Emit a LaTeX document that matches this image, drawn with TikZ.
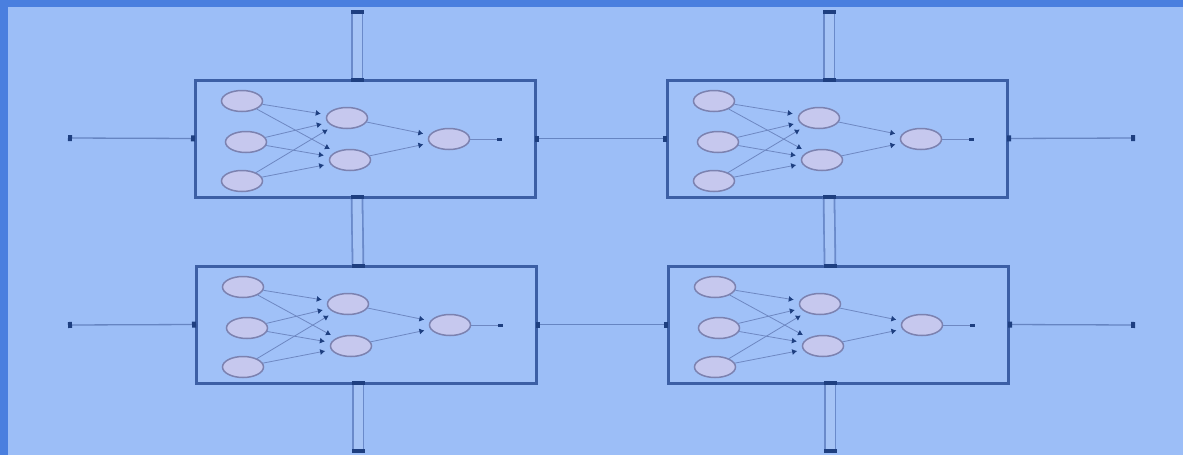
\documentclass[tikz,border=0pt]{standalone}
\usetikzlibrary{shapes.geometric,arrows.meta,calc}
\definecolor{bg}{HTML}{9CBEF7}
\definecolor{frame}{HTML}{4A7FDF}
\definecolor{boxline}{HTML}{3C5FA5}
\definecolor{boxfill}{HTML}{A0C1F8}
\definecolor{port}{HTML}{1E3F80}
\definecolor{wirec}{HTML}{6E88C2}
\definecolor{neuronfill}{HTML}{C6C8EE}
\definecolor{neurondraw}{HTML}{7C82B0}
\definecolor{linkc}{HTML}{6685C2}
\definecolor{busline}{HTML}{6A8ACA}
\definecolor{businner}{HTML}{A6C4F6}
\tikzset{
  blockbox/.style={rectangle, draw=boxline, line width=3pt, fill=boxfill,
    minimum width=340pt, minimum height=117pt, inner sep=0pt, outer sep=0pt},
  neuron/.style={ellipse, draw=neurondraw, fill=neuronfill, line width=1.5pt,
    minimum width=41pt, minimum height=21pt, inner sep=0pt},
  wire/.style={draw=wirec, line width=0.8pt},
  syn/.style={wire, shorten >=6pt, -{Latex[length=5pt,width=6pt,color=port]}},
  link/.style={draw=linkc, line width=1.3pt,
    {Square[length=4pt,width=6pt,color=port]}-{Square[length=4pt,width=6pt,color=port]}},
  bus/.style={draw=busline, line width=1.8pt, double=businner, double distance=9pt},
  busend/.style={rectangle, fill=port, minimum width=13pt, minimum height=4pt, inner sep=0pt},
  nnblock/.pic={
    \node[blockbox] (-box) at (170,58.5) {};
    \node[neuron] (-i1) at (47,21) {};
    \node[neuron] (-i2) at (51,62) {};
    \node[neuron] (-i3) at (47,101) {};
    \node[neuron] (-h1) at (152,38) {};
    \node[neuron] (-h2) at (155,80) {};
    \node[neuron] (-o) at (254,59) {};
    \coordinate (-oend) at (307,59);
    \coordinate (-n) at (162,0);
    \coordinate (-s) at (162,117);
    \foreach \i in {1,2,3}{\foreach \h in {1,2}{\draw[syn] (-i\i) -- (-h\h);}}
    \draw[syn] (-h1) -- (-o);
    \draw[syn] (-h2) -- (-o);
    \draw[wire, -{Square[length=5pt,width=3pt,color=port]}] (-o) -- (-oend);
  }
}
\begin{document}
\begin{tikzpicture}[x=1pt,y=-1pt]
  \useasboundingbox (0,0) rectangle (1183,455);
  \fill[bg] (0,0) rectangle (1183,455);
  \fill[frame] (0,0) rectangle (1183,7);
  \fill[frame] (0,0) rectangle (8,455);

  \pic (tl) at (195,80) {nnblock};
  \pic (tr) at (667,80) {nnblock};
  \pic (bl) at (196,266) {nnblock};
  \pic (br) at (668,266) {nnblock};

  % free ends
  \coordinate (tlL) at (68,138);
  \coordinate (blL) at (68,325);
  \coordinate (trR) at (1135,138);
  \coordinate (brR) at (1135,325);
  \coordinate (tlT) at (357,12);
  \coordinate (trT) at (829,12);
  \coordinate (blB) at (358,451);
  \coordinate (brB) at (830,451);

  % horizontal links
  \draw[link] (tlL) -- (tl-box.west);
  \draw[link] (tl-box.east) -- (tr-box.west);
  \draw[link] (tr-box.east) -- (trR);
  \draw[link] (blL) -- (bl-box.west);
  \draw[link] (bl-box.east) -- (br-box.west);
  \draw[link] (br-box.east) -- (brR);

  % vertical buses
  \draw[bus] (tlT) -- (tl-n);
  \draw[bus] (tl-s) -- (bl-n);
  \draw[bus] (bl-s) -- (blB);
  \draw[bus] (trT) -- (tr-n);
  \draw[bus] (tr-s) -- (br-n);
  \draw[bus] (br-s) -- (brB);
  \foreach \p in {tlT,tl-n,tl-s,bl-n,bl-s,blB,trT,tr-n,tr-s,br-n,br-s,brB}{
    \node[busend] at (\p) {};
  }
\end{tikzpicture}
\end{document}
